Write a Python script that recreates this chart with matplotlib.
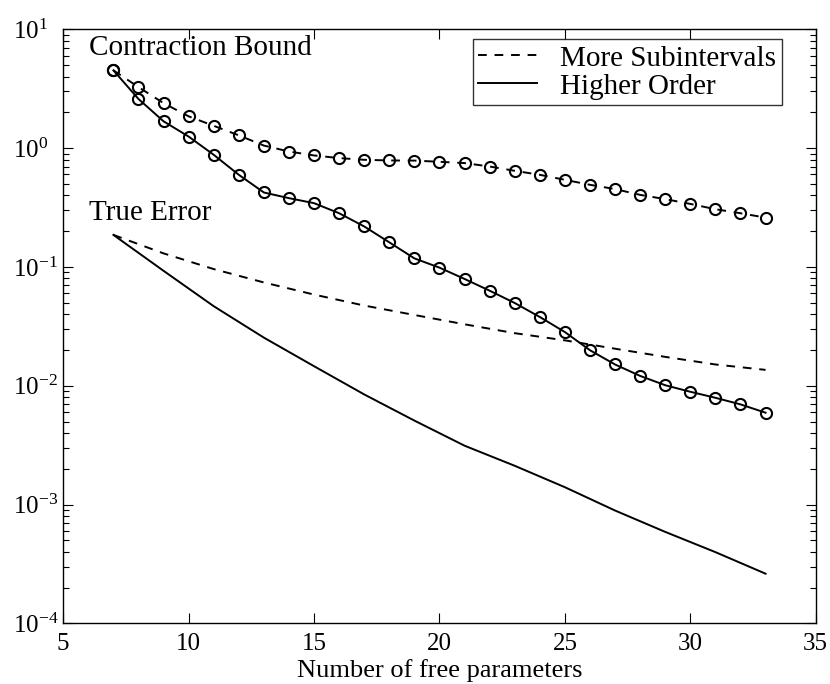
import matplotlib
matplotlib.use("Agg")
import matplotlib.pyplot as plt
from matplotlib.ticker import LogLocator, NullFormatter, FixedLocator

plt.rcParams['font.family'] = ['Liberation Serif', 'DejaVu Serif']
plt.rcParams['mathtext.fontset'] = 'custom'
plt.rcParams['mathtext.rm'] = 'Liberation Serif'
plt.rcParams['mathtext.it'] = 'Liberation Serif:italic'

# Contraction bound (with markers), x = 7..33
x_bound = list(range(7, 34))
bound_subintervals = [4.51, 3.26, 2.39, 1.85, 1.54, 1.28, 1.05, 0.936, 0.867, 0.824,
                      0.797, 0.787, 0.785, 0.767, 0.748, 0.700, 0.644, 0.596, 0.541,
                      0.491, 0.452, 0.404, 0.372, 0.339, 0.306, 0.283, 0.260]
bound_order = [4.51, 2.59, 1.68, 1.25, 0.878, 0.596, 0.423, 0.379, 0.344, 0.283,
               0.219, 0.161, 0.118, 0.0986, 0.0792, 0.0631, 0.0497, 0.0379, 0.0283,
               0.0199, 0.0151, 0.0121, 0.0101, 0.00890, 0.00792, 0.00697, 0.00593]

# True error (no markers)
x_true = [7, 9, 11, 13, 15, 17, 19, 21, 23, 25, 27, 29, 31, 33]
true_subintervals = [0.186, 0.130, 0.0959, 0.0740, 0.0585, 0.0473, 0.0394, 0.0329,
                     0.0277, 0.0241, 0.0205, 0.0175, 0.0151, 0.0136]
true_order = [0.186, 0.0927, 0.0467, 0.0254, 0.0146, 0.00845, 0.00509, 0.00313,
              0.00212, 0.00140, 0.000891, 0.000589, 0.000398, 0.000262]

x_ticks = [5, 10, 15, 20, 25, 30, 35]

fig = plt.figure(figsize=(8.3, 6.84), dpi=100)
ax = fig.add_axes([0.0762, 0.0886, 0.9066, 0.8686])

lw = 1.4
dash = (0, (4.5, 4))
ax.plot(x_bound, bound_subintervals, color='black', lw=lw, linestyle=dash,
        marker='o', markersize=8, markerfacecolor='none', markeredgewidth=1.5,
        label='More Subintervals')
ax.plot(x_bound, bound_order, color='black', lw=lw, linestyle='-',
        marker='o', markersize=8, markerfacecolor='none', markeredgewidth=1.5,
        label='Higher Order')
ax.plot(x_true, true_subintervals, color='black', lw=lw, linestyle=dash)
ax.plot(x_true, true_order, color='black', lw=lw, linestyle='-')

ax.set_yscale('log')
ax.set_xlim(5, 35)
ax.set_ylim(1e-4, 1e1)
ax.xaxis.set_major_locator(FixedLocator(x_ticks))
ax.yaxis.set_major_locator(LogLocator(base=10, numticks=10))
ax.yaxis.set_minor_locator(LogLocator(base=10, subs=range(2, 10), numticks=20))
ax.yaxis.set_minor_formatter(NullFormatter())

ax.tick_params(which='both', direction='in', top=True, right=True, labelsize=18, width=0.8)
ax.tick_params(which='major', length=7)
ax.tick_params(which='minor', length=4)
ax.tick_params(axis='x', which='major', pad=7)
ax.tick_params(axis='y', which='major', pad=36)
for s in ax.spines.values():
    s.set_linewidth(1.0)

ax.set_xlabel('Number of free parameters', fontsize=19, labelpad=3)

ax.text(6.04, 6.11, 'Contraction Bound', fontsize=21, ha='left', va='baseline')
ax.text(6.04, 0.249, 'True Error', fontsize=21, ha='left', va='baseline')

leg = ax.legend(loc='upper right', bbox_to_anchor=(0.955, 0.983), borderaxespad=0,
                fontsize=21, frameon=True, fancybox=False, handlelength=2.0,
                borderpad=0.2, labelspacing=0.05, handletextpad=0.8)
leg.get_frame().set_edgecolor('black')
leg.get_frame().set_linewidth(1.0)
for h in leg.legend_handles:
    h.set_marker('')

fig.canvas.draw()
for t in ax.get_yticklabels():
    t.set_horizontalalignment('left')

fig.savefig('out.png', dpi=100)
